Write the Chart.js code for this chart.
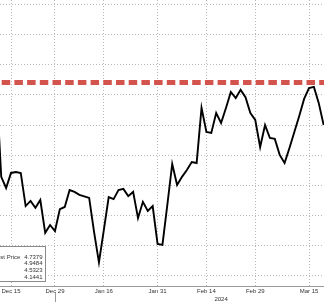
<!DOCTYPE html>
<html><head><meta charset="utf-8">
<script src="https://cdn.jsdelivr.net/npm/chart.js@4"></script>
<style>html,body{margin:0;padding:0;background:#fff;overflow:hidden}canvas{display:block}</style>
</head><body>
<canvas id="c" width="324" height="302"></canvas>
<script>
// business days (US holidays skipped)
const dates = [
 '2023-12-12','2023-12-13','2023-12-14','2023-12-15','2023-12-18','2023-12-19','2023-12-20','2023-12-21','2023-12-22',
 '2023-12-26','2023-12-27','2023-12-28','2023-12-29','2024-01-02','2024-01-03','2024-01-04','2024-01-05',
 '2024-01-08','2024-01-09','2024-01-10','2024-01-11','2024-01-12','2024-01-16','2024-01-17','2024-01-18','2024-01-19',
 '2024-01-22','2024-01-23','2024-01-24','2024-01-25','2024-01-26','2024-01-29','2024-01-30','2024-01-31',
 '2024-02-01','2024-02-02','2024-02-05','2024-02-06','2024-02-07','2024-02-08','2024-02-09','2024-02-12',
 '2024-02-13','2024-02-14','2024-02-15','2024-02-16','2024-02-20','2024-02-21','2024-02-22','2024-02-23',
 '2024-02-26','2024-02-27','2024-02-28','2024-02-29','2024-03-01','2024-03-04','2024-03-05','2024-03-06',
 '2024-03-07','2024-03-08','2024-03-11','2024-03-12','2024-03-13','2024-03-14','2024-03-15','2024-03-18',
 '2024-03-19','2024-03-20'
];
const yields = [
 4.735,4.428,4.391,4.441,4.444,4.441,4.331,4.348,4.325,
 4.351,4.242,4.268,4.248,4.321,4.328,4.384,4.378,
 4.368,4.363,4.358,4.245,4.144,4.251,4.361,4.354,4.384,
 4.388,4.364,4.378,4.291,4.345,4.315,4.331,4.205,
 4.202,4.335,4.471,4.401,4.428,4.451,4.477,4.474,
 4.657,4.577,4.574,4.640,4.607,4.657,4.710,4.690,
 4.717,4.693,4.640,4.617,4.527,4.600,4.557,4.554,
 4.501,4.474,4.524,4.577,4.630,4.687,4.723,4.727,
 4.673,4.600
];
const tickDates  = ['2023-12-15','2023-12-29','2024-01-16','2024-01-31','2024-02-14','2024-02-29','2024-03-15'];
const tickLabels = ['Dec 15','Dec 29','Jan 16','Jan 31','Feb 14','Feb 29','Mar 15'];
const gridLevels = [4.1,4.2,4.3,4.4,4.5,4.6,4.7,4.8,4.9,5.0];
const refLevel = 4.7415;
const legendNames  = ['Last Price','','',''];
const legendValues = ['4.7379','4.9484','4.5323','4.1441'];
const yearLabel = '2024';
const yearLabelDate = '2024-02-20';
const yearBoundaryDate = '2023-12-29';
const viewX = [0.748, 67.07];
const viewY = [4.0654, 5.0156];

const FONT = '"Liberation Sans", Arial, sans-serif';
const idx = d => dates.indexOf(d);

const overlay = {
  id: 'overlay',
  afterDatasetsDraw(chart) {
    const {ctx, chartArea: a, scales: {x, y}} = chart;
    // red dashed reference line
    ctx.save();
    ctx.beginPath(); ctx.rect(a.left, a.top, a.right - a.left, a.bottom - a.top); ctx.clip();
    const py = y.getPixelForValue(refLevel);
    ctx.strokeStyle = '#d3534d';
    ctx.lineWidth = 5;
    ctx.setLineDash([8.5, 4.2]);
    ctx.lineDashOffset = 11;
    ctx.beginPath(); ctx.moveTo(a.left, py); ctx.lineTo(a.right, py); ctx.stroke();
    ctx.restore();
  },
  afterDraw(chart) {
    const {ctx, chartArea: a, scales: {x}} = chart;
    ctx.save();
    // legend box
    const bx = -1, by = 246, bw = 46, bh = 35;
    ctx.fillStyle = '#fff'; ctx.fillRect(bx, by, bw, bh);
    ctx.strokeStyle = '#8a8a8a'; ctx.lineWidth = 1;
    ctx.strokeRect(bx + 0.5, by + 0.5, bw, bh);
    ctx.fillStyle = '#333';
    ctx.font = '6px ' + FONT;
    ctx.textBaseline = 'middle';
    for (let k = 0; k < legendValues.length; k++) {
      const ty = 257 + k * 6.7;
      if (legendNames[k]) { ctx.textAlign = 'left'; ctx.fillText(legendNames[k], -6.3, ty); }
      ctx.textAlign = 'right'; ctx.fillText(legendValues[k], 42.5, ty);
    }
    // year label
    ctx.textAlign = 'center';
    ctx.fillText(yearLabel, x.getPixelForValue(idx(yearLabelDate)), 299);
    // year boundary separator
    const sx = Math.round(x.getPixelForValue(idx(yearBoundaryDate))) + 0.5;
    ctx.strokeStyle = '#999';
    ctx.beginPath(); ctx.moveTo(sx, 293); ctx.lineTo(sx, 302); ctx.stroke();
    ctx.restore();
  }
};

new Chart(document.getElementById('c'), {
  type: 'line',
  data: {
    datasets: [{
      data: dates.map((d, i) => ({x: i, y: yields[i]})),
      borderColor: '#000',
      borderWidth: 1.9,
      pointRadius: 0,
      tension: 0,
      fill: false
    }]
  },
  options: {
    responsive: false,
    animation: false,
    devicePixelRatio: 1,
    layout: {padding: 0},
    plugins: {legend: {display: false}, tooltip: {enabled: false}},
    scales: {
      x: {
        type: 'linear',
        min: viewX[0], max: viewX[1],
        afterBuildTicks: s => { s.ticks = tickDates.map(d => ({value: idx(d)})); },
        afterFit: s => { s.height = 16; s.paddingLeft = 0; s.paddingRight = 0; },
        ticks: {
          autoSkip: false, maxRotation: 0, padding: 1.5,
          color: '#333', font: {family: FONT, size: 6},
          callback: (v) => tickLabels[tickDates.indexOf(dates[v])] || ''
        },
        grid: {color: '#b9b9b9', lineWidth: 1, drawTicks: false},
        border: {display: true, color: '#9a9a9a', width: 1, dash: [1, 2]}
      },
      y: {
        type: 'linear',
        min: viewY[0], max: viewY[1],
        afterBuildTicks: s => { s.ticks = gridLevels.map(v => ({value: v})); },
        afterFit: s => { s.width = 0; },
        ticks: {display: false},
        grid: {color: '#b9b9b9', lineWidth: 1, drawTicks: false},
        border: {display: false, dash: [1, 2]}
      }
    }
  },
  plugins: [overlay]
});
</script>
</body></html>
